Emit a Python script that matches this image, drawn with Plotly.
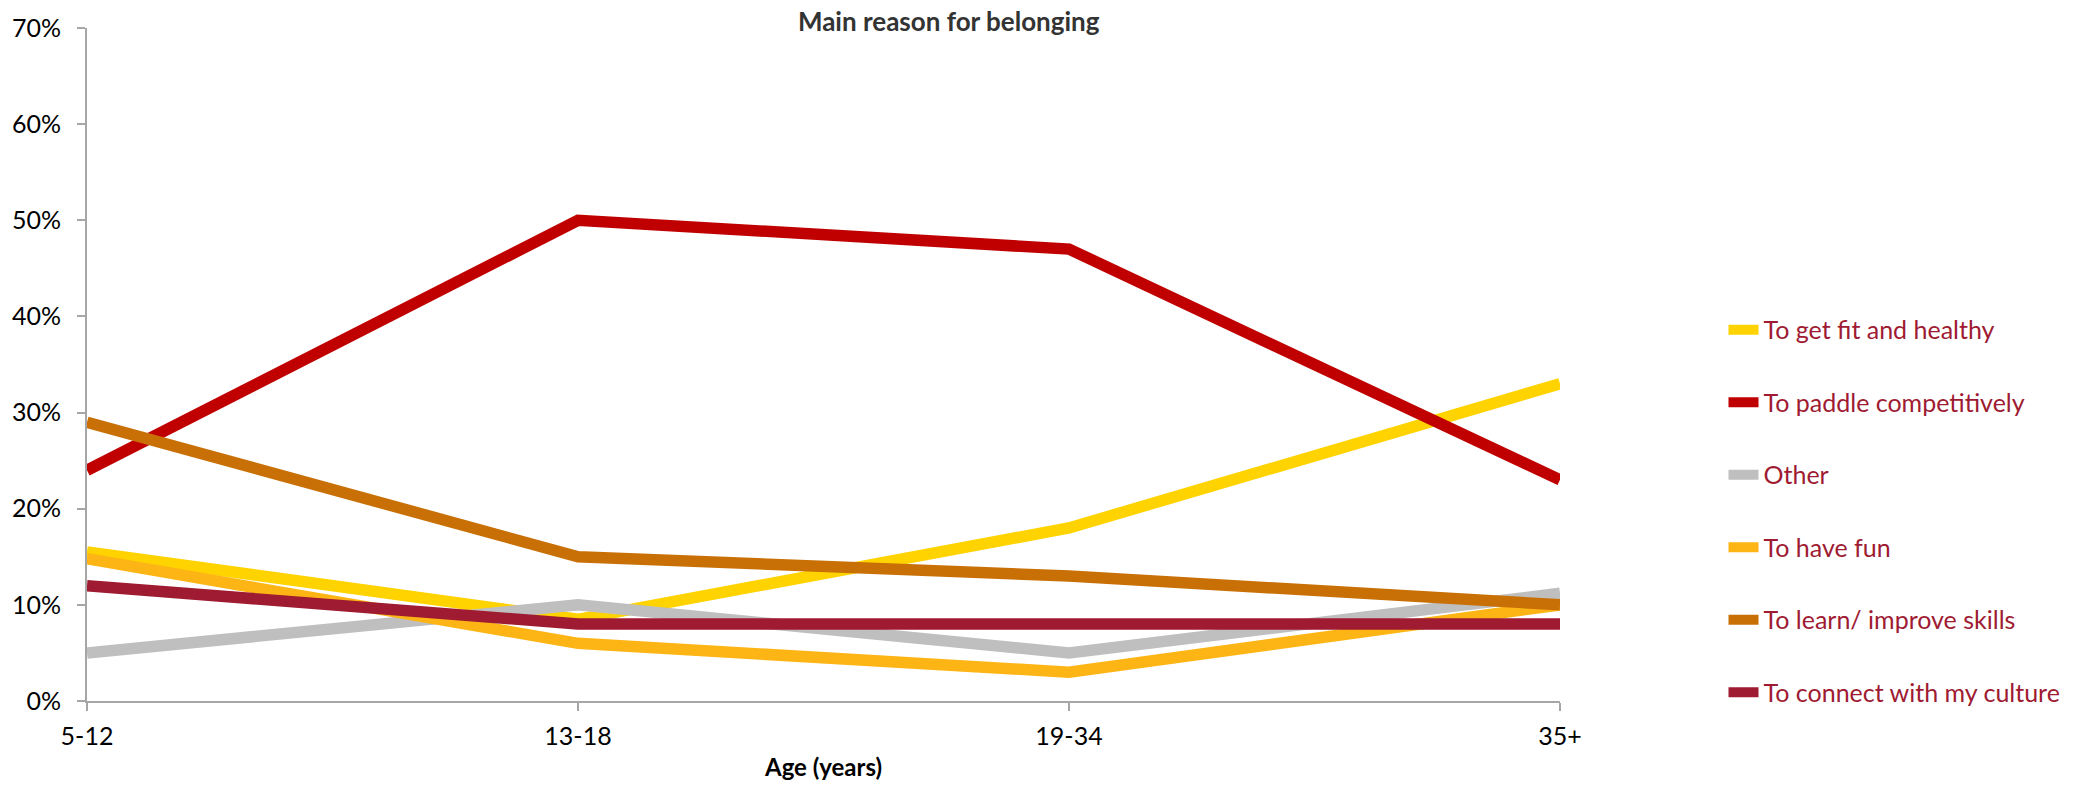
import plotly.graph_objects as go

age_groups = ["5-12", "13-18", "19-34", "35+"]
series_names = [
    "To get fit and healthy",
    "To paddle competitively",
    "Other",
    "To have fun",
    "To learn/ improve skills",
    "To connect with my culture",
]
fit_healthy = [0.155, 0.085, 0.18, 0.33]
paddle_competitively = [0.24, 0.50, 0.47, 0.23]
other = [0.05, 0.10, 0.05, 0.112]
have_fun = [0.148, 0.06, 0.03, 0.10]
learn_improve = [0.29, 0.15, 0.13, 0.10]
connect_culture = [0.12, 0.08, 0.08, 0.08]

series_values = [fit_healthy, paddle_competitively, other, have_fun, learn_improve, connect_culture]
colors = ["#FFD300", "#C00000", "#BFBFBF", "#FDB515", "#C87006", "#9E1B32"]

FONT = "Lato, 'Open Sans', 'Noto Sans', sans-serif"

fig = go.Figure()
for i, (name, vals, col) in enumerate(zip(series_names, series_values, colors)):
    fig.add_trace(go.Scatter(
        x=age_groups, y=vals, name=name, mode="lines",
        line=dict(color=col, width=11.5),
        legendgroup=f"g{i}",
        hoverinfo="skip",
    ))

fig.update_layout(
    width=2079, height=792,
    margin=dict(l=86, r=519, t=25, b=91),
    plot_bgcolor="white", paper_bgcolor="white",
    font=dict(family=FONT, size=25, color="#000000"),
    title=dict(
        text="<b>Main reason for belonging</b>",
        x=0.585, xref="paper", xanchor="center",
        y=1 - 22 / 792, yref="container", yanchor="middle",
        font=dict(family=FONT, size=26, color="#333333"),
    ),
    xaxis=dict(
        type="category", range=[0, 3],
        showline=True, linecolor="#A6A6A6", linewidth=2,
        ticks="outside", ticklen=8, tickcolor="#A6A6A6", tickwidth=2,
        showgrid=False, zeroline=False,
        ticklabelstandoff=4,
        tickfont=dict(family=FONT, size=25, color="#000000"),
        title=dict(text="<b>Age (years)</b>", standoff=10,
                   font=dict(family=FONT, size=24, color="#000000")),
    ),
    yaxis=dict(
        range=[0, 0.7], dtick=0.1, tickformat=".0%",
        showline=True, linecolor="#A6A6A6", linewidth=2,
        ticks="outside", ticklen=8, tickcolor="#A6A6A6", tickwidth=2,
        showgrid=False, zeroline=False,
        ticklabelstandoff=11,
        tickfont=dict(family=FONT, size=25, color="#000000"),
    ),
    legend=dict(
        x=1.111, xref="paper", xanchor="left",
        y=0.2825, yanchor="middle",
        font=dict(family=FONT, size=25, color="#9E1B32"),
        tracegroupgap=37,
        itemwidth=30,
        bgcolor="rgba(0,0,0,0)",
    ),
    showlegend=True,
)

fig.write_html("out.html")
